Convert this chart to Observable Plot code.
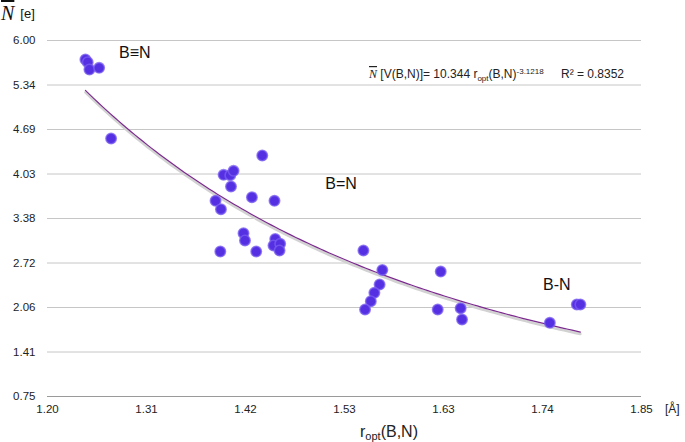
<!DOCTYPE html>
<html><head><meta charset="utf-8">
<script src="https://cdn.jsdelivr.net/npm/d3@7"></script>
<script src="https://cdn.jsdelivr.net/npm/@observablehq/plot@0.6"></script>
<style>
html,body{margin:0;padding:0;background:#fff;}
svg text{font-family:"Liberation Sans",Arial,Helvetica,sans-serif;}
</style>
</head><body><div id="chart"></div>
<script>
// r_opt(B,N) in Å
const rOpt = [1.2415,1.2440,1.2459,1.2565,1.2696,
  1.4350,1.3927,1.4000,1.4036,1.4008,1.4237,1.4484,1.3839,1.3898,1.4145,1.4161,
  1.3891,1.4284,1.4492,1.4473,1.4546,1.4539,
  1.5457,1.5664,1.5634,1.5577,1.5538,1.5475,1.6303,1.6270,1.6521,1.6536,
  1.7497,1.7792,1.7831];
// N-bar[V(B,N)] in e
const nBar = [5.720,5.680,5.572,5.597,4.555,
  4.304,4.019,4.014,4.078,3.847,3.689,3.636,3.636,3.512,3.158,3.051,
  2.888,2.888,3.073,2.977,3.002,2.903,
  2.903,2.616,2.402,2.279,2.155,2.033,2.593,2.033,2.052,1.886,
  1.837,2.107,2.107];
const xTickValues = [1.2, 1.308333, 1.416667, 1.525, 1.633333, 1.741667, 1.85];
const xTickLabels = ["1.20","1.31","1.42","1.53","1.63","1.74","1.85"];
const yTickValues = [0.75, 1.40625, 2.0625, 2.71875, 3.375, 4.03125, 4.6875, 5.34375, 6.0];
const yTickLabels = ["0.75","1.41","2.06","2.72","3.38","4.03","4.69","5.34","6.00"];
// power trendline reported on the chart
const fitA = 10.344, fitB = -3.1218, fitR2 = "0.8352";
const bondLabels = ["B≡N","B=N","B-N"];
const bondLabelR = [1.2956, 1.5213, 1.7574];
const bondLabelN = [5.816, 3.891, 2.394];

const points = rOpt.map((r,i)=>({r, n:nBar[i]}));
const [rMin, rMax] = d3.extent(rOpt);
const curve = d3.range(0, 121).map(k => {
  const r = rMin + (rMax - rMin) * k / 120;
  return {r, n: fitA * Math.pow(r, fitB)};
});
const labels = bondLabels.map((t,i)=>({t, r:bondLabelR[i], n:bondLabelN[i]}));

const plot = Plot.plot({
  width: 685, height: 442,
  marginLeft: 47, marginRight: 44, marginTop: 40, marginBottom: 46,
  style: {fontFamily: '"Liberation Sans", Arial, sans-serif', fontSize: "11.5px", color: "#222", background: "#fff"},
  x: {domain: [1.2, 1.85]},
  y: {domain: [0.75, 6.0]},
  marks: [
    Plot.ruleY(yTickValues.slice(1), {stroke: "#c6c6c6", strokeWidth: 1}),
    Plot.ruleY(yTickValues.slice(0,1), {stroke: "#9a9a9a", strokeWidth: 1.2}),
    Plot.axisY({ticks: yTickValues, tickFormat: (d)=>yTickLabels[yTickValues.indexOf(d)], tickSize: 0, tickPadding: 12, label: null, fontSize: 11.5}),
    Plot.axisX({ticks: xTickValues, tickFormat: (d)=>xTickLabels[xTickValues.indexOf(d)], tickSize: 0, tickPadding: 8, label: null, fontSize: 11.5}),
    Plot.line(curve, {x: "r", y: "n", stroke: "#d2d2d2", strokeWidth: 2.6, dy: 2}),
    Plot.line(curve, {x: "r", y: "n", stroke: "#7b2a8e", strokeWidth: 1.2}),
    Plot.dot(points, {x: "r", y: "n", r: 5.2, fill: "#5530e2", stroke: "#7a5df0", strokeWidth: 1.6, strokeOpacity: 0.75}),
    Plot.text(labels, {x: "r", y: "n", text: "t", fontSize: 16, fill: "#111", textAnchor: "middle"})
  ]
});
document.getElementById("chart").appendChild(plot);

const svg = d3.select(plot);
// y-axis title: N-bar [e]
const yt = svg.append("text").attr("x", 1).attr("y", 20).attr("text-anchor", "start").attr("fill", "#111");
yt.append("tspan").attr("font-family", '"Liberation Serif","DejaVu Serif",serif').attr("font-style", "italic")
  .attr("font-size", 20).style("text-decoration", "overline").text("N");
yt.append("tspan").attr("dx", 6).attr("font-size", 13).attr("dy", -2).text("[e]");

// unit on x
svg.append("text").attr("x", 665).attr("y", 413).attr("text-anchor", "start").attr("font-size", 12).attr("fill", "#222").text("[Å]");

// x title r_opt(B,N)
const xt = svg.append("text").attr("x", 360).attr("y", 437).attr("text-anchor", "start").attr("font-size", 16).attr("fill", "#222");
xt.append("tspan").text("r");
xt.append("tspan").attr("font-size", 11).attr("dy", 3).text("opt");
xt.append("tspan").attr("dy", -3).text("(B,N)");

// equation
const eq = svg.append("text").attr("x", 369).attr("y", 78).attr("text-anchor", "start").attr("font-size", 12).attr("fill", "#222");
eq.append("tspan").attr("font-family", '"Liberation Serif","DejaVu Serif",serif').attr("font-style", "italic")
  .style("text-decoration", "overline").text("N");
eq.append("tspan").text(" [V(B,N)]= " + fitA + " r");
eq.append("tspan").attr("font-size", 8).attr("dy", 2.5).text("opt");
eq.append("tspan").attr("dy", -2.5).text("(B,N)");
eq.append("tspan").attr("font-size", 8).attr("dy", -4.5).text(String(fitB));
svg.append("text").attr("x", 561).attr("y", 78).attr("text-anchor", "start").attr("font-size", 12).attr("fill", "#222").text("R² = " + fitR2);
</script>
</body></html>
